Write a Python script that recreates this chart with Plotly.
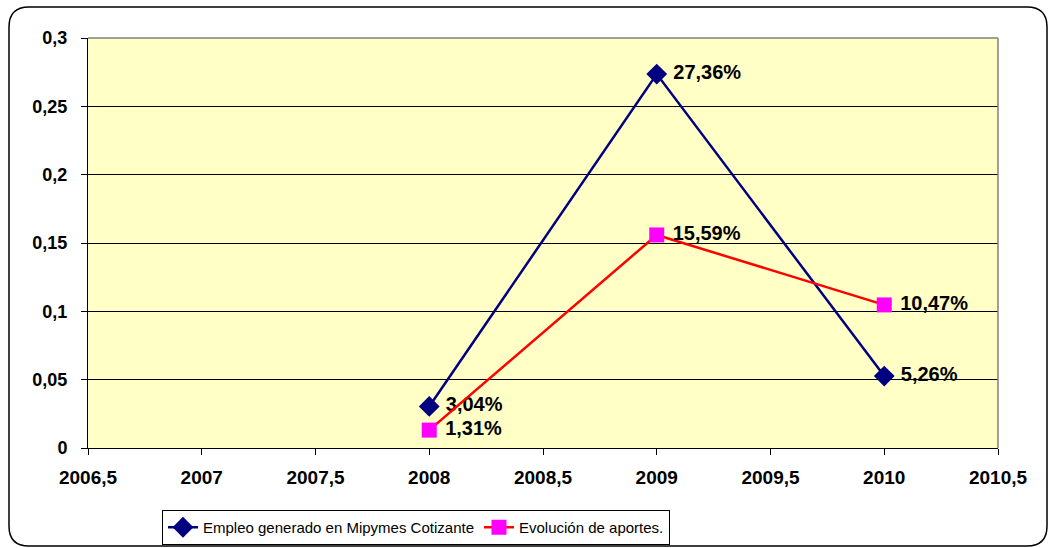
import plotly.graph_objects as go

years = [2008, 2009, 2010]
empleo = [0.0304, 0.2736, 0.0526]
aportes = [0.0131, 0.1559, 0.1047]
empleo_labels = ["3,04%", "27,36%", "5,26%"]
aportes_labels = ["1,31%", "15,59%", "10,47%"]
series_names = ["Empleo generado en Mipymes Cotizante", "Evolución de aportes."]

x_ticks = [2006.5, 2007, 2007.5, 2008, 2008.5, 2009, 2009.5, 2010, 2010.5]
x_ticktext = ["2006,5", "2007", "2007,5", "2008", "2008,5", "2009", "2009,5", "2010", "2010,5"]
y_ticks = [0, 0.05, 0.1, 0.15, 0.2, 0.25, 0.3]
y_ticktext = ["0", "0,05", "0,1", "0,15", "0,2", "0,25", "0,3"]

W, H = 1049, 548
ml, mr, mt, mb = 88, 51, 38, 100
pw, ph = W - ml - mr, H - mt - mb

def px(x):
    return (x - ml) / pw

def py(y):
    return (H - mb - y) / ph

FAM = "Liberation Sans, Arial"
lab_font = dict(family=FAM, size=20, color="black")

fig = go.Figure()
fig.add_trace(go.Scatter(
    x=years, y=empleo, name=series_names[0],
    mode="lines+markers+text",
    text=[" " + t for t in empleo_labels], textposition="middle right",
    textfont=lab_font,
    texttemplate="<b>%{text}</b>",
    line=dict(color="#000080", width=2.5),
    marker=dict(symbol="diamond", size=16, color="#000080"),
))
fig.add_trace(go.Scatter(
    x=years, y=aportes, name=series_names[1],
    mode="lines+markers+text",
    text=[" " + t for t in aportes_labels], textposition="middle right",
    textfont=lab_font,
    texttemplate="<b>%{text}</b>",
    line=dict(color="#FF0000", width=2.5),
    marker=dict(symbol="square", size=15, color="#FF00FF"),
))

# rounded outer border
r_x, r_y = 20 / pw, 20 / ph
x0, x1 = px(9), px(1047)
y0, y1 = py(546), py(7)
path = (f"M {x0+r_x},{y1} L {x1-r_x},{y1} Q {x1},{y1} {x1},{y1-r_y} "
        f"L {x1},{y0+r_y} Q {x1},{y0} {x1-r_x},{y0} "
        f"L {x0+r_x},{y0} Q {x0},{y0} {x0},{y0+r_y} "
        f"L {x0},{y1-r_y} Q {x0},{y1} {x0+r_x},{y1} Z")

shapes = [
    dict(type="path", xref="paper", yref="paper", path=path,
         line=dict(color="black", width=1.5), layer="below"),
    dict(type="line", xref="paper", yref="paper", x0=0, x1=1, y0=1, y1=1,
         line=dict(color="#808080", width=1.5)),
    dict(type="line", xref="paper", yref="paper", x0=1, x1=1, y0=0, y1=1,
         line=dict(color="#808080", width=1.5)),
]

fig.update_layout(
    width=W, height=H,
    margin=dict(l=ml, r=mr, t=mt, b=mb, autoexpand=False),
    paper_bgcolor="white",
    plot_bgcolor="#FFFFC6",
    font=dict(family=FAM, color="black"),
    shapes=shapes,
    showlegend=True,
    legend=dict(
        orientation="h", x=px(162), y=py(510), xanchor="left", yanchor="top",
        bordercolor="black", borderwidth=1, bgcolor="white",
        font=dict(family=FAM, size=15, color="black"),
        itemwidth=30, tracegroupgap=0,
    ),
    xaxis=dict(
        range=[2006.5, 2010.5], tickvals=x_ticks, ticktext=x_ticktext,
        showgrid=False, zeroline=False,
        showline=True, linecolor="black", linewidth=1,
        ticks="outside", ticklen=6, tickcolor="black",
        tickfont=dict(family=FAM, size=19, color="black", weight="bold"),
        ticklabelstandoff=6,
    ),
    yaxis=dict(
        range=[0, 0.3], tickvals=y_ticks, ticktext=y_ticktext,
        showgrid=True, gridcolor="black", gridwidth=1, zeroline=False,
        showline=True, linecolor="black", linewidth=1,
        ticks="outside", ticklen=6, tickcolor="black",
        tickfont=dict(family=FAM, size=18, color="black", weight="bold"),
        ticklabelstandoff=10,
    ),
)

fig.write_html("out.html")
